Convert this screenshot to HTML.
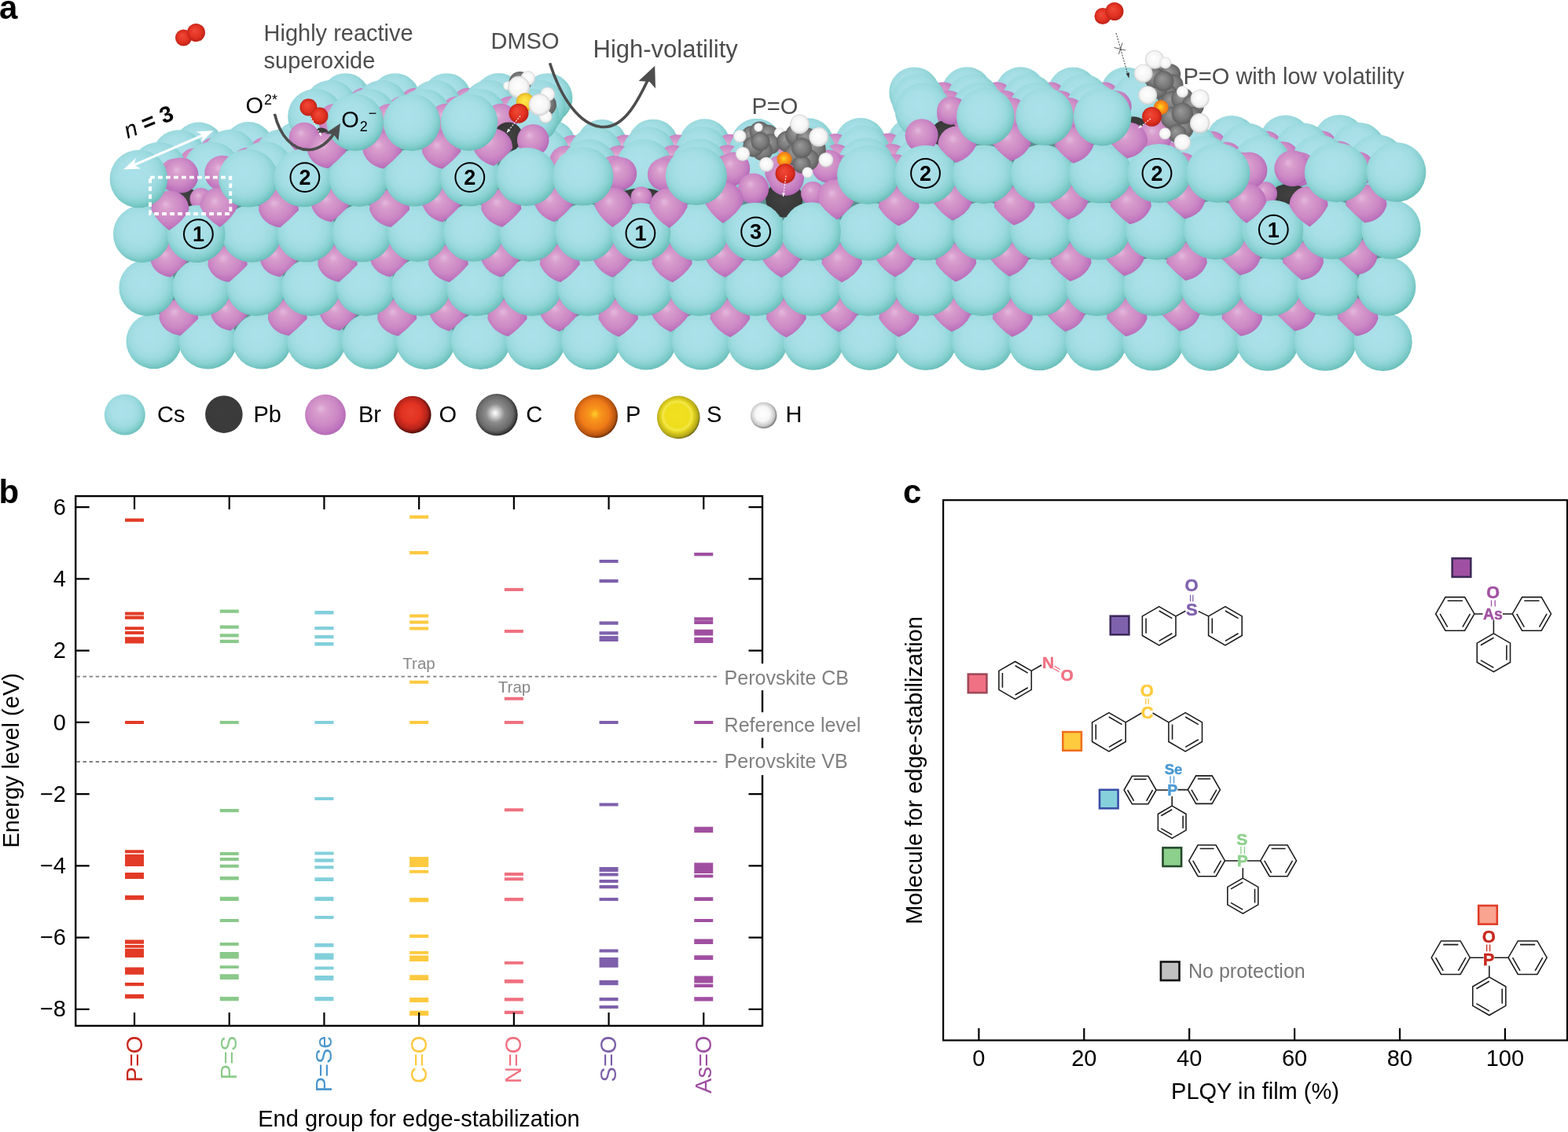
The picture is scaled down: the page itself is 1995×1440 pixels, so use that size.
<!DOCTYPE html>
<html lang="en"><head><meta charset="utf-8"><title>Figure</title>
<style>html,body{margin:0;padding:0;background:#fff}svg{display:block}</style></head>
<body>
<svg width="1995" height="1440" viewBox="0 0 1995 1440">
<rect width="1995" height="1440" fill="#fff"/>
<defs>
<radialGradient id="gCs" cx="0.46" cy="0.43" r="0.62" fx="0.42" fy="0.38">
<stop offset="0" stop-color="#ABE1EA"/><stop offset="0.42" stop-color="#A8DFE7"/><stop offset="0.64" stop-color="#9CDADF"/><stop offset="0.78" stop-color="#89D1D2"/><stop offset="0.88" stop-color="#74C6C3"/><stop offset="0.96" stop-color="#63B7B2"/><stop offset="1" stop-color="#5BAEA9"/>
</radialGradient>
<radialGradient id="gBr" cx="0.47" cy="0.45" r="0.62" fx="0.38" fy="0.34">
<stop offset="0" stop-color="#E3B8DE"/><stop offset="0.22" stop-color="#D89DCC"/><stop offset="0.6" stop-color="#CC88C5"/><stop offset="0.82" stop-color="#BD73BC"/><stop offset="1" stop-color="#A55AAB"/>
</radialGradient>
<radialGradient id="gPb" cx="0.5" cy="0.5" r="0.55">
<stop offset="0" stop-color="#424242"/><stop offset="1" stop-color="#363636"/>
</radialGradient>
<radialGradient id="gO" cx="0.5" cy="0.5" r="0.55" fx="0.4" fy="0.35">
<stop offset="0" stop-color="#F04A3A"/><stop offset="0.6" stop-color="#E23222"/><stop offset="1" stop-color="#B51E14"/>
</radialGradient>
<radialGradient id="gC" cx="0.5" cy="0.5" r="0.55" fx="0.4" fy="0.35">
<stop offset="0" stop-color="#9a9a9a"/><stop offset="0.6" stop-color="#7a7a7a"/><stop offset="1" stop-color="#585858"/>
</radialGradient>
<radialGradient id="gH" cx="0.5" cy="0.5" r="0.55" fx="0.45" fy="0.4">
<stop offset="0" stop-color="#ffffff"/><stop offset="0.7" stop-color="#f4f4f4"/><stop offset="1" stop-color="#c4c4c4"/>
</radialGradient>
<radialGradient id="gP" cx="0.5" cy="0.5" r="0.55" fx="0.45" fy="0.45">
<stop offset="0" stop-color="#FFD820"/><stop offset="0.45" stop-color="#FF9A18"/><stop offset="1" stop-color="#E86A10"/>
</radialGradient>
<radialGradient id="gS" cx="0.5" cy="0.5" r="0.55" fx="0.45" fy="0.4">
<stop offset="0" stop-color="#FFE850"/><stop offset="0.6" stop-color="#F8D030"/><stop offset="1" stop-color="#D8A820"/>
</radialGradient>
</defs>
<path d="M175 235 L400 225 L420 150 L690 140 L700 225 L1160 220 L1180 140 L1440 130 L1460 220 L1775 222 L1770 430 L195 430 Z" fill="#5d8f90"/>
<ellipse cx="195.8" cy="434" rx="35.3" ry="35.3" fill="url(#gCs)"/>
<ellipse cx="264.47" cy="434.04" rx="37.14" ry="35.39" fill="url(#gCs)"/>
<ellipse cx="333.37" cy="434.07" rx="37.27" ry="35.47" fill="url(#gCs)"/>
<ellipse cx="402.5" cy="434.11" rx="37.39" ry="35.56" fill="url(#gCs)"/>
<ellipse cx="471.86" cy="434.15" rx="37.52" ry="35.65" fill="url(#gCs)"/>
<ellipse cx="541.44" cy="434.18" rx="37.64" ry="35.73" fill="url(#gCs)"/>
<ellipse cx="611.26" cy="434.22" rx="37.76" ry="35.82" fill="url(#gCs)"/>
<ellipse cx="681.31" cy="434.25" rx="37.89" ry="35.9" fill="url(#gCs)"/>
<ellipse cx="751.58" cy="434.29" rx="38.01" ry="35.99" fill="url(#gCs)"/>
<ellipse cx="822.09" cy="434.33" rx="38.13" ry="36.08" fill="url(#gCs)"/>
<ellipse cx="892.82" cy="434.36" rx="38.26" ry="36.16" fill="url(#gCs)"/>
<ellipse cx="963.78" cy="434.4" rx="38.38" ry="36.25" fill="url(#gCs)"/>
<ellipse cx="1034.98" cy="434.44" rx="38.51" ry="36.34" fill="url(#gCs)"/>
<ellipse cx="1106.4" cy="434.47" rx="38.63" ry="36.42" fill="url(#gCs)"/>
<ellipse cx="1178.05" cy="434.51" rx="38.75" ry="36.51" fill="url(#gCs)"/>
<ellipse cx="1249.93" cy="434.55" rx="38.88" ry="36.6" fill="url(#gCs)"/>
<ellipse cx="1322.04" cy="434.58" rx="39" ry="36.68" fill="url(#gCs)"/>
<ellipse cx="1394.38" cy="434.62" rx="39.13" ry="36.77" fill="url(#gCs)"/>
<ellipse cx="1466.95" cy="434.65" rx="39.25" ry="36.85" fill="url(#gCs)"/>
<ellipse cx="1539.75" cy="434.69" rx="39.37" ry="36.94" fill="url(#gCs)"/>
<ellipse cx="1612.78" cy="434.73" rx="39.5" ry="37.03" fill="url(#gCs)"/>
<ellipse cx="1686.04" cy="434.76" rx="39.62" ry="37.11" fill="url(#gCs)"/>
<ellipse cx="1759.52" cy="434.8" rx="37.2" ry="37.2" fill="url(#gCs)"/>
<path transform="translate(227.38 405.59) scale(24.84)" d="M-1 0A1 1 0 0 1 1 0Q0.564 0.461 0.080 0.860Q-0.780 0.740 -1 0Z" fill="url(#gBr)"/>
<path transform="translate(291.68 400.38) scale(23.44)" d="M-1 0A1 1 0 0 1 1 0Q0.564 0.461 0.080 0.860Q-0.780 0.740 -1 0Z" fill="url(#gBr)"/>
<path transform="translate(365.81 405.56) scale(24.93)" d="M-1 0A1 1 0 0 1 1 0Q0.564 0.461 0.080 0.860Q-0.780 0.740 -1 0Z" fill="url(#gBr)"/>
<path transform="translate(430.57 400.34) scale(23.53)" d="M-1 0A1 1 0 0 1 1 0Q0.568 0.470 0.076 0.864Q-0.773 0.733 -1 0Z" fill="url(#gBr)"/>
<path transform="translate(505.17 405.53) scale(25.03)" d="M-1 0A1 1 0 0 1 1 0Q0.577 0.491 0.066 0.874Q-0.755 0.716 -1 0Z" fill="url(#gBr)"/>
<path transform="translate(570.41 400.31) scale(23.62)" d="M-1 0A1 1 0 0 1 1 0Q0.586 0.509 0.057 0.883Q-0.741 0.702 -1 0Z" fill="url(#gBr)"/>
<path transform="translate(645.48 405.5) scale(25.12)" d="M-1 0A1 1 0 0 1 1 0Q0.596 0.530 0.047 0.893Q-0.724 0.686 -1 0Z" fill="url(#gBr)"/>
<path transform="translate(711.18 400.28) scale(23.71)" d="M-1 0A1 1 0 0 1 1 0Q0.606 0.547 0.039 0.901Q-0.710 0.672 -1 0Z" fill="url(#gBr)"/>
<path transform="translate(786.72 405.46) scale(25.22)" d="M-1 0A1 1 0 0 1 1 0Q0.618 0.567 0.028 0.912Q-0.695 0.658 -1 0Z" fill="url(#gBr)"/>
<path transform="translate(852.89 400.25) scale(23.8)" d="M-1 0A1 1 0 0 1 1 0Q0.629 0.583 0.020 0.920Q-0.682 0.645 -1 0Z" fill="url(#gBr)"/>
<path transform="translate(928.9 405.43) scale(25.31)" d="M-1 0A1 1 0 0 1 1 0Q0.641 0.602 0.009 0.931Q-0.667 0.631 -1 0Z" fill="url(#gBr)"/>
<path transform="translate(1000.34 405.42) scale(25.36)" d="M-1 0A1 1 0 0 1 1 0Q0.654 0.619 -0.000 0.940Q-0.654 0.618 -1 0Z" fill="url(#gBr)"/>
<path transform="translate(1067.21 400.2) scale(23.93)" d="M-1 0A1 1 0 0 1 1 0Q0.666 0.630 -0.009 0.931Q-0.642 0.603 -1 0Z" fill="url(#gBr)"/>
<path transform="translate(1143.92 405.39) scale(25.45)" d="M-1 0A1 1 0 0 1 1 0Q0.681 0.644 -0.019 0.921Q-0.629 0.584 -1 0Z" fill="url(#gBr)"/>
<path transform="translate(1211.26 400.17) scale(24.02)" d="M-1 0A1 1 0 0 1 1 0Q0.694 0.657 -0.028 0.912Q-0.618 0.567 -1 0Z" fill="url(#gBr)"/>
<path transform="translate(1288.44 405.35) scale(25.55)" d="M-1 0A1 1 0 0 1 1 0Q0.710 0.672 -0.038 0.902Q-0.606 0.547 -1 0Z" fill="url(#gBr)"/>
<path transform="translate(1356.25 400.14) scale(24.11)" d="M-1 0A1 1 0 0 1 1 0Q0.724 0.686 -0.048 0.892Q-0.596 0.529 -1 0Z" fill="url(#gBr)"/>
<path transform="translate(1433.9 405.32) scale(25.64)" d="M-1 0A1 1 0 0 1 1 0Q0.742 0.703 -0.058 0.882Q-0.585 0.508 -1 0Z" fill="url(#gBr)"/>
<path transform="translate(1502.18 400.11) scale(24.2)" d="M-1 0A1 1 0 0 1 1 0Q0.757 0.718 -0.067 0.873Q-0.576 0.489 -1 0Z" fill="url(#gBr)"/>
<path transform="translate(1580.29 405.29) scale(25.73)" d="M-1 0A1 1 0 0 1 1 0Q0.775 0.735 -0.077 0.863Q-0.566 0.467 -1 0Z" fill="url(#gBr)"/>
<path transform="translate(1649.04 400.07) scale(24.29)" d="M-1 0A1 1 0 0 1 1 0Q0.780 0.740 -0.080 0.860Q-0.564 0.461 -1 0Z" fill="url(#gBr)"/>
<path transform="translate(1727.62 405.26) scale(25.83)" d="M-1 0A1 1 0 0 1 1 0Q0.780 0.740 -0.080 0.860Q-0.564 0.461 -1 0Z" fill="url(#gBr)"/>
<ellipse cx="187.39" cy="366" rx="36" ry="36" fill="url(#gCs)"/>
<ellipse cx="256.54" cy="365.93" rx="37.41" ry="36.07" fill="url(#gCs)"/>
<ellipse cx="325.94" cy="365.86" rx="37.54" ry="36.14" fill="url(#gCs)"/>
<ellipse cx="395.57" cy="365.8" rx="37.67" ry="36.2" fill="url(#gCs)"/>
<ellipse cx="465.44" cy="365.73" rx="37.79" ry="36.27" fill="url(#gCs)"/>
<ellipse cx="535.55" cy="365.66" rx="37.92" ry="36.34" fill="url(#gCs)"/>
<ellipse cx="605.89" cy="365.59" rx="38.05" ry="36.41" fill="url(#gCs)"/>
<ellipse cx="676.48" cy="365.52" rx="38.18" ry="36.48" fill="url(#gCs)"/>
<ellipse cx="747.31" cy="365.45" rx="38.31" ry="36.55" fill="url(#gCs)"/>
<ellipse cx="818.37" cy="365.39" rx="38.44" ry="36.61" fill="url(#gCs)"/>
<ellipse cx="889.67" cy="365.32" rx="38.57" ry="36.68" fill="url(#gCs)"/>
<ellipse cx="961.21" cy="365.25" rx="38.7" ry="36.75" fill="url(#gCs)"/>
<ellipse cx="1032.99" cy="365.18" rx="38.83" ry="36.82" fill="url(#gCs)"/>
<ellipse cx="1105.01" cy="365.11" rx="38.95" ry="36.89" fill="url(#gCs)"/>
<ellipse cx="1177.26" cy="365.05" rx="39.08" ry="36.95" fill="url(#gCs)"/>
<ellipse cx="1249.76" cy="364.98" rx="39.21" ry="37.02" fill="url(#gCs)"/>
<ellipse cx="1322.49" cy="364.91" rx="39.34" ry="37.09" fill="url(#gCs)"/>
<ellipse cx="1395.46" cy="364.84" rx="39.47" ry="37.16" fill="url(#gCs)"/>
<ellipse cx="1468.67" cy="364.77" rx="39.6" ry="37.23" fill="url(#gCs)"/>
<ellipse cx="1542.12" cy="364.7" rx="39.73" ry="37.3" fill="url(#gCs)"/>
<ellipse cx="1615.81" cy="364.64" rx="39.86" ry="37.36" fill="url(#gCs)"/>
<ellipse cx="1689.74" cy="364.57" rx="39.98" ry="37.43" fill="url(#gCs)"/>
<ellipse cx="1763.9" cy="364.5" rx="37.5" ry="37.5" fill="url(#gCs)"/>
<path transform="translate(215.13 332.17) scale(23.66)" d="M-1 0A1 1 0 0 1 1 0Q0.564 0.461 0.080 0.860Q-0.780 0.740 -1 0Z" fill="url(#gBr)"/>
<path transform="translate(289.54 337.2) scale(25.16)" d="M-1 0A1 1 0 0 1 1 0Q0.564 0.461 0.080 0.860Q-0.780 0.740 -1 0Z" fill="url(#gBr)"/>
<path transform="translate(354.59 331.83) scale(23.74)" d="M-1 0A1 1 0 0 1 1 0Q0.564 0.461 0.080 0.860Q-0.780 0.740 -1 0Z" fill="url(#gBr)"/>
<path transform="translate(429.49 336.86) scale(25.25)" d="M-1 0A1 1 0 0 1 1 0Q0.568 0.470 0.076 0.864Q-0.773 0.733 -1 0Z" fill="url(#gBr)"/>
<path transform="translate(495.02 331.49) scale(23.83)" d="M-1 0A1 1 0 0 1 1 0Q0.576 0.488 0.067 0.873Q-0.758 0.718 -1 0Z" fill="url(#gBr)"/>
<path transform="translate(570.4 336.53) scale(25.34)" d="M-1 0A1 1 0 0 1 1 0Q0.586 0.509 0.057 0.883Q-0.741 0.702 -1 0Z" fill="url(#gBr)"/>
<path transform="translate(636.41 331.16) scale(23.91)" d="M-1 0A1 1 0 0 1 1 0Q0.595 0.527 0.048 0.892Q-0.726 0.688 -1 0Z" fill="url(#gBr)"/>
<path transform="translate(712.27 336.19) scale(25.42)" d="M-1 0A1 1 0 0 1 1 0Q0.606 0.547 0.038 0.902Q-0.710 0.672 -1 0Z" fill="url(#gBr)"/>
<path transform="translate(778.78 330.82) scale(23.99)" d="M-1 0A1 1 0 0 1 1 0Q0.617 0.565 0.029 0.911Q-0.696 0.659 -1 0Z" fill="url(#gBr)"/>
<path transform="translate(855.12 335.85) scale(25.51)" d="M-1 0A1 1 0 0 1 1 0Q0.629 0.584 0.019 0.921Q-0.681 0.645 -1 0Z" fill="url(#gBr)"/>
<path transform="translate(922.1 330.48) scale(24.07)" d="M-1 0A1 1 0 0 1 1 0Q0.640 0.600 0.010 0.930Q-0.668 0.632 -1 0Z" fill="url(#gBr)"/>
<path transform="translate(994.13 330.32) scale(24.11)" d="M-1 0A1 1 0 0 1 1 0Q0.653 0.617 0.001 0.939Q-0.655 0.620 -1 0Z" fill="url(#gBr)"/>
<path transform="translate(1071.19 335.35) scale(25.64)" d="M-1 0A1 1 0 0 1 1 0Q0.667 0.631 -0.009 0.931Q-0.641 0.602 -1 0Z" fill="url(#gBr)"/>
<path transform="translate(1138.9 329.98) scale(24.2)" d="M-1 0A1 1 0 0 1 1 0Q0.680 0.643 -0.019 0.921Q-0.630 0.585 -1 0Z" fill="url(#gBr)"/>
<path transform="translate(1216.45 335.01) scale(25.73)" d="M-1 0A1 1 0 0 1 1 0Q0.695 0.658 -0.029 0.911Q-0.617 0.566 -1 0Z" fill="url(#gBr)"/>
<path transform="translate(1284.64 329.64) scale(24.28)" d="M-1 0A1 1 0 0 1 1 0Q0.709 0.672 -0.038 0.902Q-0.607 0.548 -1 0Z" fill="url(#gBr)"/>
<path transform="translate(1362.67 334.68) scale(25.82)" d="M-1 0A1 1 0 0 1 1 0Q0.726 0.688 -0.048 0.892Q-0.595 0.528 -1 0Z" fill="url(#gBr)"/>
<path transform="translate(1431.35 329.31) scale(24.36)" d="M-1 0A1 1 0 0 1 1 0Q0.741 0.702 -0.058 0.882Q-0.586 0.509 -1 0Z" fill="url(#gBr)"/>
<path transform="translate(1509.86 334.34) scale(25.91)" d="M-1 0A1 1 0 0 1 1 0Q0.759 0.719 -0.068 0.872Q-0.575 0.487 -1 0Z" fill="url(#gBr)"/>
<path transform="translate(1579.02 328.97) scale(24.45)" d="M-1 0A1 1 0 0 1 1 0Q0.775 0.735 -0.077 0.863Q-0.567 0.467 -1 0Z" fill="url(#gBr)"/>
<path transform="translate(1658.02 334) scale(25.99)" d="M-1 0A1 1 0 0 1 1 0Q0.780 0.740 -0.080 0.860Q-0.564 0.461 -1 0Z" fill="url(#gBr)"/>
<path transform="translate(1727.66 328.63) scale(24.53)" d="M-1 0A1 1 0 0 1 1 0Q0.780 0.740 -0.080 0.860Q-0.564 0.461 -1 0Z" fill="url(#gBr)"/>
<ellipse cx="180.41" cy="297.7" rx="36.4" ry="36.4" fill="url(#gCs)"/>
<ellipse cx="250.1" cy="297.43" rx="37.7" ry="36.46" fill="url(#gCs)"/>
<ellipse cx="320.03" cy="297.16" rx="37.83" ry="36.53" fill="url(#gCs)"/>
<ellipse cx="390.2" cy="296.9" rx="37.96" ry="36.59" fill="url(#gCs)"/>
<ellipse cx="460.62" cy="296.63" rx="38.09" ry="36.65" fill="url(#gCs)"/>
<ellipse cx="531.28" cy="296.36" rx="38.22" ry="36.72" fill="url(#gCs)"/>
<ellipse cx="602.19" cy="296.09" rx="38.36" ry="36.78" fill="url(#gCs)"/>
<ellipse cx="673.34" cy="295.82" rx="38.49" ry="36.85" fill="url(#gCs)"/>
<ellipse cx="744.73" cy="295.55" rx="38.62" ry="36.91" fill="url(#gCs)"/>
<ellipse cx="816.37" cy="295.29" rx="38.75" ry="36.97" fill="url(#gCs)"/>
<ellipse cx="888.25" cy="295.02" rx="38.88" ry="37.04" fill="url(#gCs)"/>
<ellipse cx="960.37" cy="294.75" rx="39.01" ry="37.1" fill="url(#gCs)"/>
<ellipse cx="1032.74" cy="294.48" rx="39.14" ry="37.16" fill="url(#gCs)"/>
<ellipse cx="1105.36" cy="294.21" rx="39.28" ry="37.23" fill="url(#gCs)"/>
<ellipse cx="1178.21" cy="293.95" rx="39.41" ry="37.29" fill="url(#gCs)"/>
<ellipse cx="1251.31" cy="293.68" rx="39.54" ry="37.35" fill="url(#gCs)"/>
<ellipse cx="1324.66" cy="293.41" rx="39.67" ry="37.42" fill="url(#gCs)"/>
<ellipse cx="1398.24" cy="293.14" rx="39.8" ry="37.48" fill="url(#gCs)"/>
<ellipse cx="1472.08" cy="292.87" rx="39.93" ry="37.55" fill="url(#gCs)"/>
<ellipse cx="1546.15" cy="292.6" rx="40.07" ry="37.61" fill="url(#gCs)"/>
<ellipse cx="1620.47" cy="292.34" rx="40.2" ry="37.67" fill="url(#gCs)"/>
<ellipse cx="1695.03" cy="292.07" rx="40.33" ry="37.74" fill="url(#gCs)"/>
<ellipse cx="1769.84" cy="291.8" rx="37.8" ry="37.8" fill="url(#gCs)"/>
<circle cx="253.03" cy="187.5" r="32.02" fill="url(#gCs)"/>
<circle cx="316.16" cy="187.11" r="32.06" fill="url(#gCs)"/>
<circle cx="379.55" cy="186.73" r="32.1" fill="url(#gCs)"/>
<circle cx="272.37" cy="194.06" r="19.21" fill="url(#gBr)"/>
<circle cx="336.71" cy="193.67" r="19.23" fill="url(#gBr)"/>
<circle cx="227.5" cy="199" r="33.86" fill="url(#gCs)"/>
<circle cx="292.78" cy="198.61" r="33.9" fill="url(#gCs)"/>
<circle cx="358.35" cy="198.23" r="33.94" fill="url(#gCs)"/>
<circle cx="247.92" cy="208.56" r="20.31" fill="url(#gBr)"/>
<circle cx="314.42" cy="208.17" r="20.34" fill="url(#gBr)"/>
<circle cx="201.97" cy="216.5" r="35.7" fill="url(#gCs)"/>
<circle cx="269.41" cy="216.11" r="35.74" fill="url(#gCs)"/>
<circle cx="337.14" cy="215.73" r="35.78" fill="url(#gCs)"/>
<circle cx="223.46" cy="222.81" r="21.42" fill="url(#gBr)"/>
<circle cx="292.13" cy="222.42" r="21.44" fill="url(#gBr)"/>
<circle cx="700.59" cy="184.8" r="32.29" fill="url(#gCs)"/>
<circle cx="765.61" cy="184.41" r="32.33" fill="url(#gCs)"/>
<circle cx="830.9" cy="184.02" r="32.37" fill="url(#gCs)"/>
<circle cx="896.47" cy="183.64" r="32.41" fill="url(#gCs)"/>
<circle cx="962.3" cy="183.25" r="32.45" fill="url(#gCs)"/>
<circle cx="1028.4" cy="182.86" r="32.49" fill="url(#gCs)"/>
<circle cx="1094.77" cy="182.48" r="32.53" fill="url(#gCs)"/>
<circle cx="1161.42" cy="182.09" r="32.57" fill="url(#gCs)"/>
<circle cx="728.54" cy="191.35" r="19.38" fill="url(#gBr)"/>
<circle cx="794.81" cy="190.97" r="19.4" fill="url(#gBr)"/>
<circle cx="861.36" cy="190.58" r="19.42" fill="url(#gBr)"/>
<circle cx="928.18" cy="190.19" r="19.45" fill="url(#gBr)"/>
<circle cx="995.27" cy="189.81" r="19.47" fill="url(#gBr)"/>
<circle cx="1062.64" cy="189.42" r="19.49" fill="url(#gBr)"/>
<circle cx="1130.29" cy="189.03" r="19.52" fill="url(#gBr)"/>
<circle cx="690.36" cy="196.3" r="34.15" fill="url(#gCs)"/>
<circle cx="757.6" cy="195.91" r="34.19" fill="url(#gCs)"/>
<circle cx="825.13" cy="195.52" r="34.23" fill="url(#gCs)"/>
<circle cx="892.93" cy="195.14" r="34.27" fill="url(#gCs)"/>
<circle cx="961.01" cy="194.75" r="34.32" fill="url(#gCs)"/>
<circle cx="1029.37" cy="194.36" r="34.36" fill="url(#gCs)"/>
<circle cx="1098.01" cy="193.98" r="34.4" fill="url(#gCs)"/>
<circle cx="1166.94" cy="193.59" r="34.44" fill="url(#gCs)"/>
<circle cx="719.42" cy="205.85" r="20.49" fill="url(#gBr)"/>
<circle cx="787.92" cy="205.47" r="20.51" fill="url(#gBr)"/>
<circle cx="856.7" cy="205.08" r="20.54" fill="url(#gBr)"/>
<circle cx="925.76" cy="204.69" r="20.56" fill="url(#gBr)"/>
<circle cx="995.11" cy="204.31" r="20.59" fill="url(#gBr)"/>
<circle cx="1064.74" cy="203.92" r="20.61" fill="url(#gBr)"/>
<circle cx="1134.66" cy="203.53" r="20.64" fill="url(#gBr)"/>
<circle cx="749.59" cy="213.41" r="36.05" fill="url(#gCs)"/>
<circle cx="819.35" cy="213.02" r="36.09" fill="url(#gCs)"/>
<circle cx="889.39" cy="212.64" r="36.14" fill="url(#gCs)"/>
<circle cx="959.72" cy="212.25" r="36.18" fill="url(#gCs)"/>
<circle cx="1030.34" cy="211.86" r="36.23" fill="url(#gCs)"/>
<circle cx="1101.25" cy="211.48" r="36.27" fill="url(#gCs)"/>
<circle cx="1172.45" cy="211.09" r="36.31" fill="url(#gCs)"/>
<circle cx="781.02" cy="219.72" r="21.63" fill="url(#gBr)"/>
<circle cx="852.04" cy="219.33" r="21.66" fill="url(#gBr)"/>
<circle cx="923.35" cy="218.94" r="21.68" fill="url(#gBr)"/>
<circle cx="994.95" cy="218.56" r="21.71" fill="url(#gBr)"/>
<circle cx="1066.85" cy="218.17" r="21.74" fill="url(#gBr)"/>
<circle cx="1139.04" cy="217.78" r="21.76" fill="url(#gBr)"/>
<circle cx="1430.7" cy="180.55" r="32.73" fill="url(#gCs)"/>
<circle cx="1498.7" cy="180.16" r="32.77" fill="url(#gCs)"/>
<circle cx="1566.97" cy="179.77" r="32.81" fill="url(#gCs)"/>
<circle cx="1635.5" cy="179.39" r="32.85" fill="url(#gCs)"/>
<circle cx="1704.31" cy="179" r="32.89" fill="url(#gCs)"/>
<circle cx="1472.64" cy="187.1" r="19.64" fill="url(#gBr)"/>
<circle cx="1541.94" cy="186.72" r="19.66" fill="url(#gBr)"/>
<circle cx="1611.51" cy="186.33" r="19.68" fill="url(#gBr)"/>
<circle cx="1681.36" cy="185.94" r="19.71" fill="url(#gBr)"/>
<circle cx="1445.42" cy="192.05" r="34.61" fill="url(#gCs)"/>
<circle cx="1515.74" cy="191.66" r="34.65" fill="url(#gCs)"/>
<circle cx="1586.34" cy="191.27" r="34.69" fill="url(#gCs)"/>
<circle cx="1657.22" cy="190.89" r="34.73" fill="url(#gCs)"/>
<circle cx="1728.39" cy="190.5" r="34.78" fill="url(#gCs)"/>
<circle cx="1488.52" cy="201.6" r="20.77" fill="url(#gBr)"/>
<circle cx="1560.15" cy="201.22" r="20.79" fill="url(#gBr)"/>
<circle cx="1632.06" cy="200.83" r="20.82" fill="url(#gBr)"/>
<circle cx="1704.25" cy="200.44" r="20.84" fill="url(#gBr)"/>
<circle cx="1460.14" cy="209.55" r="36.49" fill="url(#gCs)"/>
<circle cx="1532.79" cy="209.16" r="36.53" fill="url(#gCs)"/>
<circle cx="1605.72" cy="208.77" r="36.58" fill="url(#gCs)"/>
<circle cx="1678.95" cy="208.39" r="36.62" fill="url(#gCs)"/>
<circle cx="1752.46" cy="208" r="36.67" fill="url(#gCs)"/>
<circle cx="1504.41" cy="215.85" r="21.89" fill="url(#gBr)"/>
<circle cx="1578.36" cy="215.47" r="21.92" fill="url(#gBr)"/>
<circle cx="1652.61" cy="215.08" r="21.95" fill="url(#gBr)"/>
<circle cx="1727.15" cy="214.69" r="21.97" fill="url(#gBr)"/>
<circle cx="439.59" cy="124.7" r="31.49" fill="url(#gCs)"/>
<circle cx="502.78" cy="124.7" r="31.49" fill="url(#gCs)"/>
<circle cx="568.27" cy="124.7" r="31.49" fill="url(#gCs)"/>
<circle cx="634.48" cy="124.5" r="31.49" fill="url(#gCs)"/>
<circle cx="696.97" cy="124.7" r="31.49" fill="url(#gCs)"/>
<circle cx="462.15" cy="130.95" r="18.9" fill="url(#gBr)"/>
<circle cx="527.59" cy="130.95" r="18.9" fill="url(#gBr)"/>
<circle cx="594.56" cy="130.85" r="18.9" fill="url(#gBr)"/>
<circle cx="660.01" cy="130.85" r="18.9" fill="url(#gBr)"/>
<circle cx="420.44" cy="135.2" r="33.3" fill="url(#gCs)"/>
<circle cx="485.79" cy="135.2" r="33.3" fill="url(#gCs)"/>
<circle cx="553.51" cy="135.2" r="33.3" fill="url(#gCs)"/>
<circle cx="621.99" cy="135" r="33.3" fill="url(#gCs)"/>
<circle cx="686.61" cy="135.2" r="33.3" fill="url(#gCs)"/>
<circle cx="444.08" cy="142.7" r="19.98" fill="url(#gBr)"/>
<circle cx="511.71" cy="142.7" r="19.98" fill="url(#gBr)"/>
<circle cx="580.94" cy="142.6" r="19.98" fill="url(#gBr)"/>
<circle cx="648.58" cy="142.6" r="19.98" fill="url(#gBr)"/>
<circle cx="401.28" cy="148.2" r="35.11" fill="url(#gCs)"/>
<circle cx="468.79" cy="148.2" r="35.11" fill="url(#gCs)"/>
<circle cx="538.76" cy="148.2" r="35.11" fill="url(#gCs)"/>
<circle cx="609.49" cy="148" r="35.11" fill="url(#gCs)"/>
<circle cx="676.25" cy="148.2" r="35.11" fill="url(#gCs)"/>
<circle cx="426" cy="152.95" r="21.07" fill="url(#gBr)"/>
<circle cx="495.84" cy="152.95" r="21.07" fill="url(#gBr)"/>
<circle cx="567.31" cy="152.85" r="21.07" fill="url(#gBr)"/>
<circle cx="637.16" cy="152.85" r="21.07" fill="url(#gBr)"/>
<circle cx="1163.23" cy="117.4" r="32.02" fill="url(#gCs)"/>
<circle cx="1230.2" cy="117.3" r="32.02" fill="url(#gCs)"/>
<circle cx="1298.4" cy="117.3" r="32.02" fill="url(#gCs)"/>
<circle cx="1365.25" cy="117.6" r="32.02" fill="url(#gCs)"/>
<circle cx="1432.51" cy="117.4" r="32.02" fill="url(#gCs)"/>
<circle cx="1200.08" cy="123.6" r="19.21" fill="url(#gBr)"/>
<circle cx="1268.82" cy="123.55" r="19.21" fill="url(#gBr)"/>
<circle cx="1337.5" cy="123.7" r="19.21" fill="url(#gBr)"/>
<circle cx="1405.7" cy="123.75" r="19.21" fill="url(#gBr)"/>
<circle cx="1168.81" cy="127.9" r="33.86" fill="url(#gCs)"/>
<circle cx="1238.06" cy="127.8" r="33.86" fill="url(#gCs)"/>
<circle cx="1308.6" cy="127.8" r="33.86" fill="url(#gCs)"/>
<circle cx="1377.73" cy="128.1" r="33.86" fill="url(#gCs)"/>
<circle cx="1447.3" cy="127.9" r="33.86" fill="url(#gCs)"/>
<circle cx="1206.8" cy="135.35" r="20.31" fill="url(#gBr)"/>
<circle cx="1277.85" cy="135.3" r="20.31" fill="url(#gBr)"/>
<circle cx="1348.84" cy="135.45" r="20.31" fill="url(#gBr)"/>
<circle cx="1419.33" cy="135.5" r="20.31" fill="url(#gBr)"/>
<circle cx="1174.39" cy="140.9" r="35.7" fill="url(#gCs)"/>
<circle cx="1245.93" cy="140.8" r="35.7" fill="url(#gCs)"/>
<circle cx="1318.8" cy="140.8" r="35.7" fill="url(#gCs)"/>
<circle cx="1390.22" cy="141.1" r="35.7" fill="url(#gCs)"/>
<circle cx="1213.52" cy="145.6" r="21.42" fill="url(#gBr)"/>
<circle cx="1286.88" cy="145.55" r="21.42" fill="url(#gBr)"/>
<circle cx="1360.18" cy="145.7" r="21.42" fill="url(#gBr)"/>
<circle cx="408.2" cy="173.76" r="11.28" fill="url(#gPb)"/>
<circle cx="387.14" cy="175.26" r="19.55" fill="url(#gBr)"/>
<circle cx="646.62" cy="173.76" r="18.35" fill="url(#gPb)"/>
<circle cx="678.2" cy="178.27" r="20.3" fill="url(#gBr)"/>
<circle cx="1201.95" cy="170" r="16.84" fill="url(#gPb)"/>
<circle cx="1210.23" cy="140.68" r="18.05" fill="url(#gBr)"/>
<circle cx="1172.63" cy="172.26" r="21.05" fill="url(#gBr)"/>
<circle cx="1441.95" cy="170.6" r="22.26" fill="url(#gPb)"/>
<circle cx="1470.23" cy="172.86" r="21.05" fill="url(#gBr)"/>
<path transform="translate(354.53 267.38) scale(25.45)" d="M-1 0A1 1 0 0 1 1 0Q0.564 0.461 0.080 0.860Q-0.780 0.740 -1 0Z" fill="url(#gBr)"/>
<path transform="translate(420.12 261.85) scale(24.01)" d="M-1 0A1 1 0 0 1 1 0Q0.566 0.467 0.077 0.863Q-0.775 0.735 -1 0Z" fill="url(#gBr)"/>
<path transform="translate(495.58 266.73) scale(25.52)" d="M-1 0A1 1 0 0 1 1 0Q0.576 0.489 0.067 0.873Q-0.758 0.718 -1 0Z" fill="url(#gBr)"/>
<path transform="translate(561.71 261.2) scale(24.07)" d="M-1 0A1 1 0 0 1 1 0Q0.585 0.507 0.058 0.882Q-0.742 0.704 -1 0Z" fill="url(#gBr)"/>
<path transform="translate(637.72 266.07) scale(25.58)" d="M-1 0A1 1 0 0 1 1 0Q0.595 0.528 0.048 0.892Q-0.726 0.688 -1 0Z" fill="url(#gBr)"/>
<path transform="translate(704.39 260.55) scale(24.13)" d="M-1 0A1 1 0 0 1 1 0Q0.605 0.545 0.039 0.901Q-0.712 0.674 -1 0Z" fill="url(#gBr)"/>
<path transform="translate(1143.75 263.78) scale(25.8)" d="M-1 0A1 1 0 0 1 1 0Q0.681 0.644 -0.019 0.921Q-0.629 0.584 -1 0Z" fill="url(#gBr)"/>
<path transform="translate(1212.32 258.25) scale(24.33)" d="M-1 0A1 1 0 0 1 1 0Q0.694 0.657 -0.028 0.912Q-0.618 0.567 -1 0Z" fill="url(#gBr)"/>
<path transform="translate(1290.77 263.13) scale(25.86)" d="M-1 0A1 1 0 0 1 1 0Q0.711 0.673 -0.039 0.901Q-0.606 0.547 -1 0Z" fill="url(#gBr)"/>
<path transform="translate(1359.89 257.6) scale(24.39)" d="M-1 0A1 1 0 0 1 1 0Q0.725 0.687 -0.048 0.892Q-0.596 0.528 -1 0Z" fill="url(#gBr)"/>
<path transform="translate(1438.88 262.47) scale(25.93)" d="M-1 0A1 1 0 0 1 1 0Q0.743 0.704 -0.059 0.881Q-0.585 0.507 -1 0Z" fill="url(#gBr)"/>
<path transform="translate(1508.54 256.95) scale(24.45)" d="M-1 0A1 1 0 0 1 1 0Q0.758 0.719 -0.068 0.872Q-0.575 0.487 -1 0Z" fill="url(#gBr)"/>
<path transform="translate(1738.35 261.16) scale(26.05)" d="M-1 0A1 1 0 0 1 1 0Q0.780 0.740 -0.080 0.860Q-0.564 0.461 -1 0Z" fill="url(#gBr)"/>
<ellipse cx="234" cy="251" rx="17" ry="13" fill="url(#gPb)"/>
<circle cx="255.3" cy="252.8" r="13.8" fill="url(#gBr)"/>
<circle cx="229.9" cy="223" r="22.6" fill="url(#gBr)"/>
<circle cx="282.9" cy="220.3" r="22.6" fill="url(#gBr)"/>
<circle cx="250.1" cy="297.43" r="36.46" fill="url(#gCs)"/>
<path transform="translate(216.5 266.5) scale(24)" d="M-1 0A1 1 0 0 1 1 0Q0.720 0.620 -0.050 1.100Q-0.720 0.620 -1 0Z" fill="url(#gBr)"/>
<path transform="translate(278.5 262.5) scale(24)" d="M-1 0A1 1 0 0 1 1 0Q0.720 0.620 0.050 1.100Q-0.720 0.620 -1 0Z" fill="url(#gBr)"/>
<ellipse cx="816.5" cy="247" rx="25" ry="7.5" fill="url(#gPb)"/>
<circle cx="816.1" cy="251" r="13.6" fill="url(#gBr)"/>
<circle cx="789.3" cy="220.8" r="20.9" fill="url(#gBr)"/>
<circle cx="844.8" cy="221.8" r="20.9" fill="url(#gBr)"/>
<circle cx="816.37" cy="295.29" r="36.97" fill="url(#gCs)"/>
<path transform="translate(780.6 262.5) scale(24)" d="M-1 0A1 1 0 0 1 1 0Q0.720 0.620 -0.050 1.100Q-0.720 0.620 -1 0Z" fill="url(#gBr)"/>
<path transform="translate(850.5 263.5) scale(24)" d="M-1 0A1 1 0 0 1 1 0Q0.720 0.620 0.050 1.100Q-0.720 0.620 -1 0Z" fill="url(#gBr)"/>
<ellipse cx="1640" cy="247" rx="22" ry="13" fill="url(#gPb)"/>
<circle cx="1610" cy="246.3" r="15" fill="url(#gBr)"/>
<circle cx="1589.4" cy="216.5" r="23" fill="url(#gBr)"/>
<circle cx="1644.4" cy="214.2" r="23" fill="url(#gBr)"/>
<circle cx="1620.47" cy="292.34" r="37.67" fill="url(#gCs)"/>
<path transform="translate(1587.1 257.5) scale(24)" d="M-1 0A1 1 0 0 1 1 0Q0.720 0.620 -0.050 1.100Q-0.720 0.620 -1 0Z" fill="url(#gBr)"/>
<path transform="translate(1665 261.5) scale(24.5)" d="M-1 0A1 1 0 0 1 1 0Q0.720 0.620 0.050 1.100Q-0.720 0.620 -1 0Z" fill="url(#gBr)"/>
<circle cx="933.2" cy="214.4" r="21" fill="url(#gBr)"/>
<circle cx="1053.5" cy="211.4" r="21" fill="url(#gBr)"/>
<circle cx="997.8" cy="253" r="23.5" fill="url(#gPb)"/>
<circle cx="1000" cy="226" r="23" fill="url(#gBr)"/>
<circle cx="958.7" cy="240" r="19.5" fill="url(#gBr)"/>
<circle cx="1034" cy="246" r="15" fill="url(#gBr)"/>
<circle cx="960.37" cy="294.75" r="37.1" fill="url(#gCs)"/>
<circle cx="1032.74" cy="294.48" r="37.16" fill="url(#gCs)"/>
<path transform="translate(921 256.5) scale(25)" d="M-1 0A1 1 0 0 1 1 0Q0.720 0.620 -0.050 1.100Q-0.720 0.620 -1 0Z" fill="url(#gBr)"/>
<path transform="translate(1064 252.5) scale(24.5)" d="M-1 0A1 1 0 0 1 1 0Q0.720 0.620 0.050 1.100Q-0.720 0.620 -1 0Z" fill="url(#gBr)"/>
<ellipse cx="176.44" cy="227.5" rx="36.8" ry="36.8" fill="url(#gCs)"/>
<ellipse cx="315.93" cy="226.73" rx="37.82" ry="36.89" fill="url(#gCs)"/>
<ellipse cx="386.13" cy="226.34" rx="37.99" ry="36.94" fill="url(#gCs)"/>
<ellipse cx="456.62" cy="225.95" rx="38.15" ry="36.98" fill="url(#gCs)"/>
<ellipse cx="527.41" cy="225.57" rx="38.31" ry="37.03" fill="url(#gCs)"/>
<ellipse cx="598.51" cy="225.18" rx="38.47" ry="37.07" fill="url(#gCs)"/>
<ellipse cx="669.89" cy="224.8" rx="38.63" ry="37.12" fill="url(#gCs)"/>
<ellipse cx="741.58" cy="224.41" rx="38.79" ry="37.16" fill="url(#gCs)"/>
<ellipse cx="885.85" cy="223.64" rx="39.11" ry="37.25" fill="url(#gCs)"/>
<ellipse cx="1104.49" cy="222.48" rx="39.6" ry="37.39" fill="url(#gCs)"/>
<ellipse cx="1177.97" cy="222.09" rx="39.76" ry="37.44" fill="url(#gCs)"/>
<ellipse cx="1251.74" cy="221.7" rx="39.92" ry="37.48" fill="url(#gCs)"/>
<ellipse cx="1325.82" cy="221.32" rx="40.08" ry="37.53" fill="url(#gCs)"/>
<ellipse cx="1400.19" cy="220.93" rx="40.24" ry="37.57" fill="url(#gCs)"/>
<ellipse cx="1474.86" cy="220.55" rx="40.4" ry="37.62" fill="url(#gCs)"/>
<ellipse cx="1549.83" cy="220.16" rx="40.56" ry="37.66" fill="url(#gCs)"/>
<ellipse cx="1700.67" cy="219.39" rx="40.89" ry="37.75" fill="url(#gCs)"/>
<ellipse cx="1776.53" cy="219" rx="37.8" ry="37.8" fill="url(#gCs)"/>
<path transform="translate(415.7 193) scale(24.7)" d="M-1 0A1 1 0 0 1 1 0Q0.566 0.466 0.078 0.862Q-0.776 0.736 -1 0Z" fill="url(#gBr)"/>
<path transform="translate(486.4 193) scale(24.7)" d="M-1 0A1 1 0 0 1 1 0Q0.575 0.486 0.068 0.872Q-0.760 0.720 -1 0Z" fill="url(#gBr)"/>
<path transform="translate(561.6 193) scale(24.7)" d="M-1 0A1 1 0 0 1 1 0Q0.585 0.507 0.058 0.882Q-0.743 0.704 -1 0Z" fill="url(#gBr)"/>
<path transform="translate(627 188.5) scale(25.2)" d="M-1 0A1 1 0 0 1 1 0Q0.594 0.525 0.050 0.890Q-0.728 0.690 -1 0Z" fill="url(#gBr)"/>
<path transform="translate(1217.7 184.8) scale(24.5)" d="M-1 0A1 1 0 0 1 1 0Q0.696 0.658 -0.029 0.911Q-0.617 0.566 -1 0Z" fill="url(#gBr)"/>
<path transform="translate(1287 182.8) scale(24.5)" d="M-1 0A1 1 0 0 1 1 0Q0.710 0.672 -0.038 0.902Q-0.606 0.548 -1 0Z" fill="url(#gBr)"/>
<path transform="translate(1366.6 185.8) scale(24.5)" d="M-1 0A1 1 0 0 1 1 0Q0.727 0.688 -0.049 0.891Q-0.595 0.527 -1 0Z" fill="url(#gBr)"/>
<path transform="translate(1435.6 180) scale(24.5)" d="M-1 0A1 1 0 0 1 1 0Q0.742 0.703 -0.058 0.882Q-0.585 0.508 -1 0Z" fill="url(#gBr)"/>
<circle cx="451.8" cy="155.7" r="36.2" fill="url(#gCs)"/>
<circle cx="524" cy="155.7" r="36.2" fill="url(#gCs)"/>
<circle cx="597" cy="155.5" r="36.2" fill="url(#gCs)"/>
<circle cx="1253.8" cy="148.3" r="36.8" fill="url(#gCs)"/>
<circle cx="1329" cy="148.3" r="36.8" fill="url(#gCs)"/>
<circle cx="1402.7" cy="148.6" r="36.8" fill="url(#gCs)"/>
<text x="-1" y="24" font-family="Liberation Sans, Arial, Helvetica, sans-serif" font-size="42" font-weight="bold">a</text>
<defs>
<radialGradient id="gPbL" cx="0.5" cy="0.5" r="0.5"><stop offset="0" stop-color="#3c3c3c"/><stop offset="1" stop-color="#3a3a3a"/></radialGradient>
<radialGradient id="gOL" cx="0.47" cy="0.47" r="0.56" fx="0.45" fy="0.42">
<stop offset="0" stop-color="#E8402C"/><stop offset="0.45" stop-color="#E23222"/><stop offset="0.75" stop-color="#B8241A"/><stop offset="0.93" stop-color="#5a100c"/><stop offset="1" stop-color="#2a0806"/></radialGradient>
<radialGradient id="gCL" cx="0.47" cy="0.47" r="0.56" fx="0.46" fy="0.46">
<stop offset="0" stop-color="#ffffff"/><stop offset="0.12" stop-color="#e0e0e0"/><stop offset="0.4" stop-color="#8c8c8c"/><stop offset="0.75" stop-color="#686868"/><stop offset="0.93" stop-color="#303030"/><stop offset="1" stop-color="#181818"/></radialGradient>
<radialGradient id="gPL" cx="0.47" cy="0.47" r="0.56" fx="0.47" fy="0.45">
<stop offset="0" stop-color="#FFD028"/><stop offset="0.2" stop-color="#F89A1C"/><stop offset="0.6" stop-color="#EE7A18"/><stop offset="0.85" stop-color="#B85410"/><stop offset="1" stop-color="#4a2208"/></radialGradient>
<radialGradient id="gSL" cx="0.47" cy="0.47" r="0.56" fx="0.48" fy="0.46">
<stop offset="0" stop-color="#F0E020"/><stop offset="0.5" stop-color="#EEDE1E"/><stop offset="0.6" stop-color="#F4E84a"/><stop offset="0.68" stop-color="#E4D420"/><stop offset="0.88" stop-color="#B0A418"/><stop offset="1" stop-color="#3c3808"/></radialGradient>
<radialGradient id="gHL" cx="0.47" cy="0.47" r="0.56" fx="0.45" fy="0.42">
<stop offset="0" stop-color="#ffffff"/><stop offset="0.5" stop-color="#f6f6f6"/><stop offset="0.8" stop-color="#c8c8c8"/><stop offset="1" stop-color="#5a5a5a"/></radialGradient>
</defs>
<circle cx="233.5" cy="48" r="10.5" fill="url(#gO)"/>
<circle cx="249.5" cy="41.5" r="11.5" fill="url(#gO)"/>
<circle cx="1403" cy="20.5" r="10.5" fill="url(#gO)"/>
<circle cx="1418" cy="14.5" r="11.5" fill="url(#gO)"/>
<circle cx="392.5" cy="136.5" r="11" fill="url(#gO)"/>
<circle cx="406.5" cy="147.5" r="11" fill="url(#gO)"/>
<circle cx="661.67" cy="105" r="14.08" fill="url(#gC)"/>
<circle cx="645.83" cy="109.17" r="5.79" fill="url(#gH)"/>
<circle cx="671.67" cy="99.58" r="9.33" fill="url(#gH)"/>
<circle cx="660" cy="110.83" r="14" fill="url(#gH)"/>
<circle cx="693.33" cy="133.33" r="14.62" fill="url(#gC)"/>
<circle cx="696.67" cy="120" r="9.33" fill="url(#gH)"/>
<circle cx="694.17" cy="148.33" r="8.4" fill="url(#gH)"/>
<circle cx="668.33" cy="130" r="11.67" fill="url(#gS)"/>
<circle cx="686.67" cy="133.33" r="14" fill="url(#gH)"/>
<circle cx="660" cy="144.17" r="12.5" fill="url(#gO)"/>
<circle cx="955.83" cy="173.33" r="13" fill="url(#gC)"/>
<circle cx="966.67" cy="167.5" r="13" fill="url(#gC)"/>
<circle cx="977.5" cy="171.67" r="13" fill="url(#gC)"/>
<circle cx="980" cy="183.33" r="13" fill="url(#gC)"/>
<circle cx="970" cy="191.67" r="13" fill="url(#gC)"/>
<circle cx="958.33" cy="186.67" r="13" fill="url(#gC)"/>
<circle cx="967.5" cy="180" r="11.92" fill="url(#gC)"/>
<circle cx="941.25" cy="173.33" r="8.21" fill="url(#gH)"/>
<circle cx="945" cy="195.83" r="9.15" fill="url(#gH)"/>
<circle cx="965" cy="162.08" r="5.6" fill="url(#gH)"/>
<circle cx="991.67" cy="169.17" r="6.72" fill="url(#gH)"/>
<circle cx="1001.67" cy="180" r="13.54" fill="url(#gC)"/>
<circle cx="1013.33" cy="171.67" r="14.08" fill="url(#gC)"/>
<circle cx="1026.67" cy="176.67" r="14.08" fill="url(#gC)"/>
<circle cx="1036.67" cy="190" r="14.08" fill="url(#gC)"/>
<circle cx="1028.33" cy="203.33" r="13.54" fill="url(#gC)"/>
<circle cx="1011.67" cy="196.67" r="14.08" fill="url(#gC)"/>
<circle cx="1020" cy="209.17" r="11.38" fill="url(#gC)"/>
<circle cx="1020" cy="188.33" r="13" fill="url(#gC)"/>
<circle cx="975" cy="209.17" r="9.33" fill="url(#gH)"/>
<circle cx="1017.5" cy="157.92" r="12.32" fill="url(#gH)"/>
<circle cx="1041.67" cy="174.17" r="12.32" fill="url(#gH)"/>
<circle cx="1050.83" cy="203.33" r="9.33" fill="url(#gH)"/>
<circle cx="1027.5" cy="219.58" r="7" fill="url(#gH)"/>
<circle cx="997.92" cy="202.5" r="9.58" fill="url(#gP)"/>
<circle cx="999.17" cy="220.83" r="12.67" fill="url(#gO)"/>
<circle cx="1477.78" cy="86.67" r="13.29" fill="url(#gC)"/>
<circle cx="1488.89" cy="94.44" r="13.29" fill="url(#gC)"/>
<circle cx="1492.22" cy="107.78" r="13.29" fill="url(#gC)"/>
<circle cx="1484.44" cy="120" r="13.29" fill="url(#gC)"/>
<circle cx="1472.22" cy="112.22" r="13.29" fill="url(#gC)"/>
<circle cx="1468.89" cy="98.89" r="13.29" fill="url(#gC)"/>
<circle cx="1480.56" cy="103.33" r="13" fill="url(#gC)"/>
<circle cx="1468.89" cy="75.78" r="11.95" fill="url(#gH)"/>
<circle cx="1454.67" cy="93.33" r="11.95" fill="url(#gH)"/>
<circle cx="1460.22" cy="121.11" r="11.95" fill="url(#gH)"/>
<circle cx="1482.78" cy="80" r="7.47" fill="url(#gH)"/>
<circle cx="1491.11" cy="130" r="14.16" fill="url(#gC)"/>
<circle cx="1504.44" cy="125.56" r="14.16" fill="url(#gC)"/>
<circle cx="1517.78" cy="134.44" r="14.16" fill="url(#gC)"/>
<circle cx="1515.56" cy="150" r="14.16" fill="url(#gC)"/>
<circle cx="1504.44" cy="163.33" r="14.16" fill="url(#gC)"/>
<circle cx="1491.11" cy="150" r="14.16" fill="url(#gC)"/>
<circle cx="1497.78" cy="170" r="11.84" fill="url(#gC)"/>
<circle cx="1504.44" cy="144.44" r="13.72" fill="url(#gC)"/>
<circle cx="1504.44" cy="116.67" r="7.47" fill="url(#gH)"/>
<circle cx="1526.67" cy="125.56" r="11.95" fill="url(#gH)"/>
<circle cx="1526.67" cy="156.67" r="12.69" fill="url(#gH)"/>
<circle cx="1504.44" cy="181.11" r="10.7" fill="url(#gH)"/>
<circle cx="1482.22" cy="170" r="7.47" fill="url(#gH)"/>
<circle cx="1477.22" cy="136.67" r="9.44" fill="url(#gP)"/>
<circle cx="1465.56" cy="148.33" r="12.44" fill="url(#gO)"/>
<rect x="191" y="225.6" width="102.3" height="46.4" fill="none" stroke="#fff" stroke-width="3.9" stroke-dasharray="5.8 4.2"/>
<path d="M166 211.8L262.5 170.2" stroke="#fff" stroke-width="3" fill="none"/>
<path d="M157.1 215.6L172.8 201L170.5 209.9L179.2 214.6Z" fill="#fff"/>
<path d="M271.6 166.3L255.9 180.9L258.2 172L249.5 167.3Z" fill="#fff"/>
<text transform="translate(162.5 176.5) rotate(-22.5)" font-family="Liberation Sans, Arial, Helvetica, sans-serif" font-size="29"><tspan font-style="italic">n</tspan><tspan font-weight="bold"> = 3</tspan></text>
<path d="M349.4 144.8C356 172 372 191.5 394 190.5C406 190 418 181 426 168" stroke="#4d4d4d" stroke-width="3.6" fill="none"/>
<path d="M433 157L430.5 179L424.5 171L413.5 170Z" fill="#4d4d4d"/>
<path d="M699.6 80.2C713 122 737 162 769 161.5C795 161 812 128 826 98" stroke="#4d4d4d" stroke-width="3.6" fill="none"/>
<path d="M833.2 83.8L834 112.6L826.5 104L812.6 103Z" fill="#4d4d4d"/>
<path d="M396 150L409 173" stroke="#fff" stroke-width="1.1" stroke-dasharray="2 1.6" fill="none"/>
<path d="M409 173L405.13 170.02L408.44 168.15Z" fill="#fff"/>
<path d="M662 147.5L645 168.5" stroke="#fff" stroke-width="1.1" stroke-dasharray="2 1.6" fill="none"/>
<path d="M645 168.5L646.35 163.81L649.31 166.2Z" fill="#fff"/>
<path d="M1000 223.5L996.5 250" stroke="#fff" stroke-width="1.1" stroke-dasharray="2 1.6" fill="none"/>
<path d="M996.5 250L995.21 245.29L998.97 245.79Z" fill="#fff"/>
<path d="M1464 151L1448.5 163" stroke="#fff" stroke-width="1.1" stroke-dasharray="2 1.6" fill="none"/>
<path d="M1448.5 163L1450.9 158.74L1453.22 161.75Z" fill="#fff"/>
<path d="M1420 42L1435 95" stroke="#333" stroke-width="1" stroke-dasharray="2 1.6" fill="none"/>
<path d="M1436.5 99.5L1432.6 93.6L1437 92.3Z" fill="#333"/>
<path d="M1417.5 60.5L1432 64M1428 54.5L1423.5 69" stroke="#333" stroke-width="0.8" fill="none"/>
<text x="335.5" y="51.7" font-family="Liberation Sans, Arial, Helvetica, sans-serif" font-size="29" fill="#4d4d4d">Highly reactive</text>
<text x="335.5" y="87.2" font-family="Liberation Sans, Arial, Helvetica, sans-serif" font-size="29" fill="#4d4d4d">superoxide</text>
<text x="624.5" y="61.5" font-family="Liberation Sans, Arial, Helvetica, sans-serif" font-size="29" fill="#4d4d4d">DMSO</text>
<text x="754.5" y="72.5" font-family="Liberation Sans, Arial, Helvetica, sans-serif" font-size="31" fill="#4d4d4d">High-volatility</text>
<text x="956.5" y="144.6" font-family="Liberation Sans, Arial, Helvetica, sans-serif" font-size="29" fill="#4d4d4d">P=O</text>
<text x="1505.5" y="107" font-family="Liberation Sans, Arial, Helvetica, sans-serif" font-size="29" fill="#4d4d4d">P=O with low volatility</text>
<text x="312.5" y="144" font-family="Liberation Sans, Arial, Helvetica, sans-serif" font-size="29">O<tspan font-size="18" dy="-11.5" dx="1">2*</tspan></text>
<text x="434.2" y="162.4" font-family="Liberation Sans, Arial, Helvetica, sans-serif" font-size="29">O<tspan font-size="18" dy="5" dx="1">2</tspan><tspan font-size="18" dy="-17" dx="1">−</tspan></text>
<circle cx="252.4" cy="297.7" r="18.4" fill="none" stroke="#000" stroke-width="2"/><text x="252.4" y="307.1" font-family="Liberation Sans, Arial, Helvetica, sans-serif" font-size="27" font-weight="bold" text-anchor="middle">1</text>
<circle cx="814.9" cy="296.7" r="18.4" fill="none" stroke="#000" stroke-width="2"/><text x="814.9" y="306.1" font-family="Liberation Sans, Arial, Helvetica, sans-serif" font-size="27" font-weight="bold" text-anchor="middle">1</text>
<circle cx="1620.3" cy="292.1" r="18.4" fill="none" stroke="#000" stroke-width="2"/><text x="1620.3" y="301.5" font-family="Liberation Sans, Arial, Helvetica, sans-serif" font-size="27" font-weight="bold" text-anchor="middle">1</text>
<circle cx="387.9" cy="225.6" r="18.4" fill="none" stroke="#000" stroke-width="2"/><text x="387.9" y="235" font-family="Liberation Sans, Arial, Helvetica, sans-serif" font-size="27" font-weight="bold" text-anchor="middle">2</text>
<circle cx="597.8" cy="225.6" r="18.4" fill="none" stroke="#000" stroke-width="2"/><text x="597.8" y="235" font-family="Liberation Sans, Arial, Helvetica, sans-serif" font-size="27" font-weight="bold" text-anchor="middle">2</text>
<circle cx="1177.5" cy="220.5" r="18.4" fill="none" stroke="#000" stroke-width="2"/><text x="1177.5" y="229.9" font-family="Liberation Sans, Arial, Helvetica, sans-serif" font-size="27" font-weight="bold" text-anchor="middle">2</text>
<circle cx="1472" cy="220.5" r="18.4" fill="none" stroke="#000" stroke-width="2"/><text x="1472" y="229.9" font-family="Liberation Sans, Arial, Helvetica, sans-serif" font-size="27" font-weight="bold" text-anchor="middle">2</text>
<circle cx="961.6" cy="294.8" r="18.4" fill="none" stroke="#000" stroke-width="2"/><text x="961.6" y="304.2" font-family="Liberation Sans, Arial, Helvetica, sans-serif" font-size="27" font-weight="bold" text-anchor="middle">3</text>
<circle cx="158.8" cy="527.6" r="26" fill="url(#gCs)"/>
<text x="200" y="537.1" font-family="Liberation Sans, Arial, Helvetica, sans-serif" font-size="29">Cs</text>
<circle cx="284.9" cy="527.1" r="23.8" fill="url(#gPbL)"/>
<text x="322.5" y="537.1" font-family="Liberation Sans, Arial, Helvetica, sans-serif" font-size="29">Pb</text>
<circle cx="414" cy="527.6" r="25.9" fill="url(#gBr)"/>
<text x="456" y="537.1" font-family="Liberation Sans, Arial, Helvetica, sans-serif" font-size="29">Br</text>
<circle cx="524.8" cy="527.6" r="23.8" fill="url(#gOL)"/>
<text x="558.5" y="537.1" font-family="Liberation Sans, Arial, Helvetica, sans-serif" font-size="29">O</text>
<circle cx="632.1" cy="527.6" r="26.6" fill="url(#gCL)"/>
<text x="669.2" y="537.1" font-family="Liberation Sans, Arial, Helvetica, sans-serif" font-size="29">C</text>
<circle cx="758.4" cy="529.4" r="27.6" fill="url(#gPL)"/>
<text x="796" y="537.1" font-family="Liberation Sans, Arial, Helvetica, sans-serif" font-size="29">P</text>
<circle cx="863.2" cy="530.9" r="27.3" fill="url(#gSL)"/>
<text x="899" y="537.1" font-family="Liberation Sans, Arial, Helvetica, sans-serif" font-size="29">S</text>
<circle cx="971.7" cy="528.4" r="16.7" fill="url(#gHL)"/>
<text x="999.5" y="537.1" font-family="Liberation Sans, Arial, Helvetica, sans-serif" font-size="29">H</text>
<path d="M159.05 659.55h24v4.2h-24zM159.05 778.5h24v4h-24zM159.05 783.5h24v4.2h-24zM159.05 797.2h24v4h-24zM159.05 802.9h24v4h-24zM159.05 810.2h24v4.2h-24zM159.05 814.4h24v4h-24zM159.05 917h24v4h-24zM159.05 1081.2h24v4.1h-24zM159.05 1086.8h24v15.2h-24zM159.05 1109.9h24v8.1h-24zM159.05 1139h24v5.8h-24zM159.05 1195.6h24v5.2h-24zM159.05 1201.9h24v3.8h-24zM159.05 1206.8h24v11.1h-24zM159.05 1230.5h24v9.3h-24zM159.05 1249.9h24v4.3h-24zM159.05 1264.8h24v5.4h-24z" fill="#E23A26"/>
<path d="M279.75 775.4h24v4.4h-24zM279.75 795.6h24v4.2h-24zM279.75 806.2h24v4.2h-24zM279.75 813.8h24v4.2h-24zM279.75 917h24v4h-24zM279.75 1029.1h24v4.1h-24zM279.75 1084.1h24v3.9h-24zM279.75 1090.9h24v4.1h-24zM279.75 1099.7h24v4.1h-24zM279.75 1115h24v4.5h-24zM279.75 1140.8h24v5.1h-24zM279.75 1168.9h24v4.1h-24zM279.75 1198.9h24v4.1h-24zM279.75 1211.1h24v8.4h-24zM279.75 1228.3h24v3.8h-24zM279.75 1239.3h24v6.6h-24zM279.75 1268h24v5.2h-24z" fill="#8AC98A"/>
<path d="M400.45 777h24v4.4h-24zM400.45 797.1h24v4.2h-24zM400.45 808h24v4.2h-24zM400.45 817h24v4.6h-24zM400.45 917h24v4h-24zM400.45 1014h24v4h-24zM400.45 1083.5h24v4h-24zM400.45 1092.3h24v4.5h-24zM400.45 1101.3h24v4h-24zM400.45 1116.2h24v4.7h-24zM400.45 1140.8h24v5.1h-24zM400.45 1164.9h24v4.1h-24zM400.45 1200.1h24v4.7h-24zM400.45 1212.5h24v8.3h-24zM400.45 1229.4h24v4.1h-24zM400.45 1241.1h24v6.1h-24zM400.45 1268h24v5.2h-24z" fill="#82CFDB"/>
<path d="M521.15 655.5h24v4.2h-24zM521.15 701.1h24v4.2h-24zM521.15 781.5h24v4h-24zM521.15 789.4h24v4h-24zM521.15 797.5h24v4h-24zM521.15 865.8h24v4h-24zM521.15 917h24v4h-24zM521.15 1090h24v12.9h-24zM521.15 1106.7h24v4.1h-24zM521.15 1141.9h24v5.6h-24zM521.15 1188.8h24v4.1h-24zM521.15 1210h24v3.8h-24zM521.15 1215.4h24v7.5h-24zM521.15 1240.2h24v6.8h-24zM521.15 1269.1h24v5.9h-24zM521.15 1285.8h24v6.3h-24z" fill="#FDC93F"/>
<path d="M641.85 748.1h24v4h-24zM641.85 800.9h24v4h-24zM641.85 886.8h24v4h-24zM641.85 917h24v4h-24zM641.85 1028.2h24v4.1h-24zM641.85 1110.1h24v4h-24zM641.85 1116.2h24v4h-24zM641.85 1142.1h24v4.1h-24zM641.85 1222.9h24v3.8h-24zM641.85 1245.9h24v4.9h-24zM641.85 1269.3h24v4.1h-24zM641.85 1285.8h24v4.1h-24z" fill="#F0707F"/>
<path d="M762.55 711.9h24v4.2h-24zM762.55 737.1h24v4.2h-24zM762.55 790.6h24v4.2h-24zM762.55 803.2h24v4.2h-24zM762.55 809.1h24v7h-24zM762.55 917h24v4h-24zM762.55 1021.4h24v4.1h-24zM762.55 1102.9h24v6h-24zM762.55 1110.5h24v4.1h-24zM762.55 1118.9h24v4h-24zM762.55 1126.1h24v4.1h-24zM762.55 1142.1h24v3.8h-24zM762.55 1207.5h24v4.1h-24zM762.55 1217.9h24v12.9h-24zM762.55 1247h24v6.3h-24zM762.55 1269.1h24v4.1h-24zM762.55 1279h24v4.1h-24z" fill="#7E60AB"/>
<path d="M883.25 703.1h24v4.2h-24zM883.25 785.3h24v3.6h-24zM883.25 789.3h24v4.6h-24zM883.25 800.85h24v7.7h-24zM883.25 810.8h24v7.2h-24zM883.25 917h24v4h-24zM883.25 1051.7h24v7.6h-24zM883.25 1097.4h24v13.6h-24zM883.25 1112.6h24v4h-24zM883.25 1141.2h24v4.7h-24zM883.25 1168.9h24v4.1h-24zM883.25 1194.4h24v6.6h-24zM883.25 1215.2h24v5.8h-24zM883.25 1241.4h24v9h-24zM883.25 1251.7h24v4.3h-24zM883.25 1268.2h24v5.2h-24z" fill="#A04FA0"/>
<line x1="97.4" y1="860.7" x2="915" y2="860.7" stroke="#808080" stroke-width="1.8" stroke-dasharray="4.5 3.6"/>
<line x1="97.4" y1="969" x2="915" y2="969" stroke="#808080" stroke-width="1.8" stroke-dasharray="4.5 3.6"/>
<rect x="96.2" y="631.1" width="873.8" height="673.8" fill="none" stroke="#000" stroke-width="2.4"/>
<path d="M96.2 645.1h17.5M970 645.1h-17.5M96.2 736.34h17.5M970 736.34h-17.5M96.2 827.58h17.5M970 827.58h-17.5M96.2 918.82h17.5M970 918.82h-17.5M96.2 1010.06h17.5M970 1010.06h-17.5M96.2 1101.3h17.5M970 1101.3h-17.5M96.2 1192.54h17.5M970 1192.54h-17.5M96.2 1283.78h17.5M970 1283.78h-17.5M171.05 631.1v16.8M171.05 1304.9v-16.8M291.75 631.1v16.8M291.75 1304.9v-16.8M412.45 631.1v16.8M412.45 1304.9v-16.8M533.15 631.1v16.8M533.15 1304.9v-16.8M653.85 631.1v16.8M653.85 1304.9v-16.8M774.55 631.1v16.8M774.55 1304.9v-16.8M895.25 631.1v16.8M895.25 1304.9v-16.8" fill="none" stroke="#000" stroke-width="2.2"/>
<rect x="918" y="844.2" width="185" height="34" fill="#fff"/>
<rect x="918" y="906.1" width="185" height="32.5" fill="#fff"/>
<rect x="918" y="951.6" width="185" height="34.4" fill="#fff"/>
<text x="921.6" y="870.7" font-family="Liberation Sans, Arial, Helvetica, sans-serif" font-size="25" fill="#808080">Perovskite CB</text>
<text x="921.6" y="930.9" font-family="Liberation Sans, Arial, Helvetica, sans-serif" font-size="25" fill="#808080">Reference level</text>
<text x="921.6" y="977.3" font-family="Liberation Sans, Arial, Helvetica, sans-serif" font-size="25" fill="#808080">Perovskite VB</text>
<text x="533" y="850.9" font-family="Liberation Sans, Arial, Helvetica, sans-serif" font-size="20.5" fill="#888" text-anchor="middle">Trap</text>
<text x="654.5" y="881.4" font-family="Liberation Sans, Arial, Helvetica, sans-serif" font-size="20.5" fill="#888" text-anchor="middle">Trap</text>
<text x="84" y="654.8" font-family="Liberation Sans, Arial, Helvetica, sans-serif" font-size="29" text-anchor="end">6</text>
<text x="84" y="746.04" font-family="Liberation Sans, Arial, Helvetica, sans-serif" font-size="29" text-anchor="end">4</text>
<text x="84" y="837.28" font-family="Liberation Sans, Arial, Helvetica, sans-serif" font-size="29" text-anchor="end">2</text>
<text x="84" y="928.52" font-family="Liberation Sans, Arial, Helvetica, sans-serif" font-size="29" text-anchor="end">0</text>
<text x="84" y="1019.76" font-family="Liberation Sans, Arial, Helvetica, sans-serif" font-size="29" text-anchor="end">−2</text>
<text x="84" y="1111" font-family="Liberation Sans, Arial, Helvetica, sans-serif" font-size="29" text-anchor="end">−4</text>
<text x="84" y="1202.24" font-family="Liberation Sans, Arial, Helvetica, sans-serif" font-size="29" text-anchor="end">−6</text>
<text x="84" y="1293.48" font-family="Liberation Sans, Arial, Helvetica, sans-serif" font-size="29" text-anchor="end">−8</text>
<text transform="translate(23.6 967.3) rotate(-90)" font-family="Liberation Sans, Arial, Helvetica, sans-serif" font-size="29" text-anchor="middle">Energy level (eV)</text>
<text x="533" y="1433.4" font-family="Liberation Sans, Arial, Helvetica, sans-serif" font-size="29" text-anchor="middle">End group for edge-stabilization</text>
<text transform="translate(180.65 1317.6) rotate(-90)" font-family="Liberation Sans, Arial, Helvetica, sans-serif" font-size="29" text-anchor="end" fill="#C8281E">P=O</text>
<text transform="translate(301.35 1317.6) rotate(-90)" font-family="Liberation Sans, Arial, Helvetica, sans-serif" font-size="29" text-anchor="end" fill="#8CCB8A">P=S</text>
<text transform="translate(422.05 1317.6) rotate(-90)" font-family="Liberation Sans, Arial, Helvetica, sans-serif" font-size="29" text-anchor="end" fill="#4A96CD">P=Se</text>
<text transform="translate(542.75 1317.6) rotate(-90)" font-family="Liberation Sans, Arial, Helvetica, sans-serif" font-size="29" text-anchor="end" fill="#FBC940">C=O</text>
<text transform="translate(663.45 1317.6) rotate(-90)" font-family="Liberation Sans, Arial, Helvetica, sans-serif" font-size="29" text-anchor="end" fill="#F07080">N=O</text>
<text transform="translate(784.15 1317.6) rotate(-90)" font-family="Liberation Sans, Arial, Helvetica, sans-serif" font-size="29" text-anchor="end" fill="#7B5EA7">S=O</text>
<text transform="translate(904.85 1317.6) rotate(-90)" font-family="Liberation Sans, Arial, Helvetica, sans-serif" font-size="29" text-anchor="end" fill="#9E4FA0">As=O</text>
<text x="-1.5" y="640" font-family="Liberation Sans, Arial, Helvetica, sans-serif" font-size="42" font-weight="bold">b</text>
<rect x="1200.1" y="636.2" width="793.9" height="687.2" fill="none" stroke="#000" stroke-width="2.2"/>
<text x="1245.4" y="1356.4" font-family="Liberation Sans, Arial, Helvetica, sans-serif" font-size="29" text-anchor="middle">0</text>
<text x="1379.3" y="1356.4" font-family="Liberation Sans, Arial, Helvetica, sans-serif" font-size="29" text-anchor="middle">20</text>
<text x="1513.2" y="1356.4" font-family="Liberation Sans, Arial, Helvetica, sans-serif" font-size="29" text-anchor="middle">40</text>
<text x="1647.1" y="1356.4" font-family="Liberation Sans, Arial, Helvetica, sans-serif" font-size="29" text-anchor="middle">60</text>
<text x="1781" y="1356.4" font-family="Liberation Sans, Arial, Helvetica, sans-serif" font-size="29" text-anchor="middle">80</text>
<text x="1914.9" y="1356.4" font-family="Liberation Sans, Arial, Helvetica, sans-serif" font-size="29" text-anchor="middle">100</text>
<path d="M1245.4 1323.4v-15.3M1379.3 1323.4v-15.3M1513.2 1323.4v-15.3M1647.1 1323.4v-15.3M1781 1323.4v-15.3M1914.9 1323.4v-15.3" fill="none" stroke="#000" stroke-width="2.2"/>
<text x="1597" y="1397.8" font-family="Liberation Sans, Arial, Helvetica, sans-serif" font-size="29" text-anchor="middle">PLQY in film (%)</text>
<text transform="translate(1172.5 980) rotate(-90)" font-family="Liberation Sans, Arial, Helvetica, sans-serif" font-size="29" text-anchor="middle">Molecule for edge-stabilization</text>
<text x="1149" y="639.6" font-family="Liberation Sans, Arial, Helvetica, sans-serif" font-size="42" font-weight="bold">c</text>
<rect x="1847.7" y="710.3" width="23.6" height="23.6" fill="#A050A2" stroke="#3E2A58" stroke-width="2.6"/>
<rect x="1412.8" y="783.7" width="23.6" height="23.6" fill="#7F62AE" stroke="#3D2A5C" stroke-width="2.6"/>
<rect x="1231.8" y="857.6" width="23.6" height="23.6" fill="#F07183" stroke="#A04858" stroke-width="2.6"/>
<rect x="1352.3" y="931.1" width="23.6" height="23.6" fill="#FFCB3E" stroke="#F07020" stroke-width="2.6"/>
<rect x="1399" y="1004.7" width="23.6" height="23.6" fill="#86D0DC" stroke="#3B4FA8" stroke-width="2.6"/>
<rect x="1479.5" y="1078.4" width="23.6" height="23.6" fill="#8DD08D" stroke="#234A2C" stroke-width="2.6"/>
<rect x="1881.2" y="1152" width="23.6" height="23.6" fill="#F8A490" stroke="#E03C28" stroke-width="2.6"/>
<rect x="1476.9" y="1223.5" width="23.6" height="23.6" fill="#C0C0C0" stroke="#111" stroke-width="2.6"/>
<text x="1512" y="1244" font-family="Liberation Sans, Arial, Helvetica, sans-serif" font-size="25" fill="#777">No protection</text>
<path d="M1474.7 771.6L1496 783.9L1496 808.5L1474.7 820.8L1453.4 808.5L1453.4 783.9ZM1474.7 777.01L1491.32 786.61M1491.32 805.79L1474.7 815.39M1458.08 805.79L1458.08 786.61M1558.9 771.6L1580.2 783.9L1580.2 808.5L1558.9 820.8L1537.6 808.5L1537.6 783.9ZM1558.9 777.01L1575.52 786.61M1575.52 805.79L1558.9 815.39M1542.28 805.79L1542.28 786.61M1496 783.9L1508.4 777.2M1537.6 783.9L1524.8 777.6" fill="none" stroke="#1a1a1a" stroke-width="1.55"/>
<path d="M1514.6 756.8V765.2M1517.8 756.8V765.2" stroke="#7F62AE" stroke-width="1.3" fill="none"/>
<text x="1516.4" y="783.37" font-family="Liberation Sans, Arial, Helvetica, sans-serif" font-size="22" font-weight="bold" fill="#7F62AE" stroke="#7F62AE" stroke-width="0.45" text-anchor="middle">S</text>
<text x="1516" y="752.07" font-family="Liberation Sans, Arial, Helvetica, sans-serif" font-size="22" font-weight="bold" fill="#7F62AE" stroke="#7F62AE" stroke-width="0.45" text-anchor="middle">O</text>
<path d="M1291.6 841.5L1312.3 853.45L1312.3 877.35L1291.6 889.3L1270.9 877.35L1270.9 853.45ZM1291.6 846.76L1307.74 856.08M1307.74 874.72L1291.6 884.04M1275.46 874.72L1275.46 856.08M1312.3 853.45L1325.2 846" fill="none" stroke="#1a1a1a" stroke-width="1.55"/>
<path d="M1341.6 847.4L1349 851.7M1340.2 850.3L1347.6 854.6" stroke="#F07183" stroke-width="1.3" fill="none"/>
<text x="1333.7" y="849.62" font-family="Liberation Sans, Arial, Helvetica, sans-serif" font-size="21" font-weight="bold" fill="#F07183" stroke="#F07183" stroke-width="0.45" text-anchor="middle">N</text>
<text x="1357.6" y="865.62" font-family="Liberation Sans, Arial, Helvetica, sans-serif" font-size="21" font-weight="bold" fill="#F07183" stroke="#F07183" stroke-width="0.45" text-anchor="middle">O</text>
<path d="M1410.9 906.6L1432.2 918.9L1432.2 943.5L1410.9 955.8L1389.6 943.5L1389.6 918.9ZM1410.9 912.01L1427.52 921.61M1427.52 940.79L1410.9 950.39M1394.28 940.79L1394.28 921.61M1508.2 906.6L1529.5 918.9L1529.5 943.5L1508.2 955.8L1486.9 943.5L1486.9 918.9ZM1508.2 912.01L1524.82 921.61M1524.82 940.79L1508.2 950.39M1491.58 940.79L1491.58 921.61M1432.2 918.9L1452.6 907M1486.9 918.9L1466.6 907" fill="none" stroke="#1a1a1a" stroke-width="1.55"/>
<path d="M1457.8 888.6V896M1461.2 888.6V896" stroke="#FFCB3E" stroke-width="1.3" fill="none"/>
<text x="1459.6" y="914.07" font-family="Liberation Sans, Arial, Helvetica, sans-serif" font-size="22" font-weight="bold" fill="#FFCB3E" stroke="#FFCB3E" stroke-width="0.45" text-anchor="middle">C</text>
<text x="1459.3" y="885.97" font-family="Liberation Sans, Arial, Helvetica, sans-serif" font-size="22" font-weight="bold" fill="#FFCB3E" stroke="#FFCB3E" stroke-width="0.45" text-anchor="middle">O</text>
<path d="M1471.1 1005L1460.85 1022.75L1440.35 1022.75L1430.1 1005L1440.35 987.25L1460.85 987.25ZM1466.59 1005L1458.59 1018.85M1442.61 1018.85L1434.61 1005M1442.6 991.15L1458.59 991.15M1552.4 1004.6L1542.15 1022.35L1521.65 1022.35L1511.4 1004.6L1521.65 986.85L1542.15 986.85ZM1547.89 1004.6L1539.89 1018.45M1523.91 1018.45L1515.91 1004.6M1523.9 990.75L1539.89 990.75M1491.2 1025.2L1509.04 1035.5L1509.04 1056.1L1491.2 1066.4L1473.36 1056.1L1473.36 1035.5ZM1505.12 1037.77L1505.12 1053.83M1491.2 1061.87L1477.28 1053.83M1477.28 1037.77L1491.2 1029.73M1471.1 1005H1485.9M1511.4 1004.6H1498.4M1491.2 1025.2V1012.9" fill="none" stroke="#1a1a1a" stroke-width="1.55" stroke-linejoin="miter"/>
<path d="M1489.1 987.2V996.5M1493.6 987.2V996.5" stroke="#4A9AD4" stroke-width="1.3" fill="none"/>
<text x="1491.8" y="1011.61" font-family="Liberation Sans, Arial, Helvetica, sans-serif" font-size="19.5" font-weight="bold" fill="#4A9AD4" stroke="#4A9AD4" stroke-width="0.45" text-anchor="middle">P</text>
<text x="1493.1" y="984.96" font-family="Liberation Sans, Arial, Helvetica, sans-serif" font-size="18.5" font-weight="bold" fill="#4A9AD4" stroke="#4A9AD4" stroke-width="0.45" text-anchor="middle">Se</text>
<path d="M1558.5 1094.9L1547.05 1114.73L1524.15 1114.73L1512.7 1094.9L1524.15 1075.07L1547.05 1075.07ZM1553.46 1094.9L1544.53 1110.37M1526.67 1110.37L1517.74 1094.9M1526.67 1079.43L1544.53 1079.43M1649.5 1094.9L1638.05 1114.73L1615.15 1114.73L1603.7 1094.9L1615.15 1075.07L1638.05 1075.07ZM1644.46 1094.9L1635.53 1110.37M1617.67 1110.37L1608.74 1094.9M1617.67 1079.43L1635.53 1079.43M1581.3 1117.1L1600.79 1128.35L1600.79 1150.85L1581.3 1162.1L1561.81 1150.85L1561.81 1128.35ZM1596.5 1130.82L1596.5 1148.38M1581.3 1157.15L1566.1 1148.38M1566.1 1130.82L1581.3 1122.05M1558.5 1094.9H1574.9M1603.7 1094.9H1586.9M1581.3 1117.1V1104.3" fill="none" stroke="#1a1a1a" stroke-width="1.55" stroke-linejoin="miter"/>
<path d="M1578.9 1076.7V1086.4M1583.4 1076.7V1086.4" stroke="#8DD08D" stroke-width="1.3" fill="none"/>
<text x="1580.8" y="1102.12" font-family="Liberation Sans, Arial, Helvetica, sans-serif" font-size="21" font-weight="bold" fill="#8DD08D" stroke="#8DD08D" stroke-width="0.45" text-anchor="middle">P</text>
<text x="1580.2" y="1074.82" font-family="Liberation Sans, Arial, Helvetica, sans-serif" font-size="21" font-weight="bold" fill="#8DD08D" stroke="#8DD08D" stroke-width="0.45" text-anchor="middle">S</text>
<path d="M1875.9 780.9L1863.6 802.2L1839 802.2L1826.7 780.9L1839 759.6L1863.6 759.6ZM1870.49 780.9L1860.89 797.52M1841.71 797.52L1832.11 780.9M1841.71 764.28L1860.89 764.28M1973.5 780.9L1961.2 802.2L1936.6 802.2L1924.3 780.9L1936.6 759.6L1961.2 759.6ZM1968.09 780.9L1958.49 797.52M1939.31 797.52L1929.71 780.9M1939.31 764.28L1958.49 764.28M1900.4 805.9L1921.53 818.1L1921.53 842.5L1900.4 854.7L1879.27 842.5L1879.27 818.1ZM1916.88 820.78L1916.88 839.82M1900.4 849.33L1883.92 839.82M1883.92 820.78L1900.4 811.27M1875.9 780.9H1886.5M1924.3 780.9H1911.9M1900.4 805.9V788.6" fill="none" stroke="#1a1a1a" stroke-width="1.55" stroke-linejoin="miter"/>
<path d="M1897.5 763.4V771.5M1902.2 763.4V771.5" stroke="#A050A2" stroke-width="1.3" fill="none"/>
<text x="1899.5" y="787.81" font-family="Liberation Sans, Arial, Helvetica, sans-serif" font-size="19.5" font-weight="bold" fill="#A050A2" stroke="#A050A2" stroke-width="0.45" text-anchor="middle">As</text>
<text x="1899.5" y="760.6" font-family="Liberation Sans, Arial, Helvetica, sans-serif" font-size="21.5" font-weight="bold" fill="#A050A2" stroke="#A050A2" stroke-width="0.45" text-anchor="middle">O</text>
<path d="M1870.35 1218.2L1858.08 1239.46L1833.52 1239.46L1821.25 1218.2L1833.52 1196.94L1858.08 1196.94ZM1864.95 1218.2L1855.37 1234.78M1836.23 1234.78L1826.65 1218.2M1836.23 1201.62L1855.37 1201.62M1968.15 1218.2L1955.88 1239.46L1931.32 1239.46L1919.05 1218.2L1931.32 1196.94L1955.88 1196.94ZM1962.75 1218.2L1953.17 1234.78M1934.03 1234.78L1924.45 1218.2M1934.03 1201.62L1953.17 1201.62M1894.8 1242.9L1915.84 1255.05L1915.84 1279.35L1894.8 1291.5L1873.76 1279.35L1873.76 1255.05ZM1911.21 1257.72L1911.21 1276.68M1894.8 1286.15L1878.39 1276.68M1878.39 1257.72L1894.8 1248.25M1870.35 1218.2H1887.7M1919.05 1218.2H1901.3M1894.8 1242.9V1228.5" fill="none" stroke="#1a1a1a" stroke-width="1.55" stroke-linejoin="miter"/>
<path d="M1891.6 1201.4V1210.2M1895.6 1201.4V1210.2" stroke="#C8281E" stroke-width="1.3" fill="none"/>
<text x="1894.2" y="1228.47" font-family="Liberation Sans, Arial, Helvetica, sans-serif" font-size="22" font-weight="bold" fill="#C8281E" stroke="#C8281E" stroke-width="0.45" text-anchor="middle">P</text>
<text x="1894.2" y="1198.97" font-family="Liberation Sans, Arial, Helvetica, sans-serif" font-size="22" font-weight="bold" fill="#C8281E" stroke="#C8281E" stroke-width="0.45" text-anchor="middle">O</text>
</svg>
</body></html>
